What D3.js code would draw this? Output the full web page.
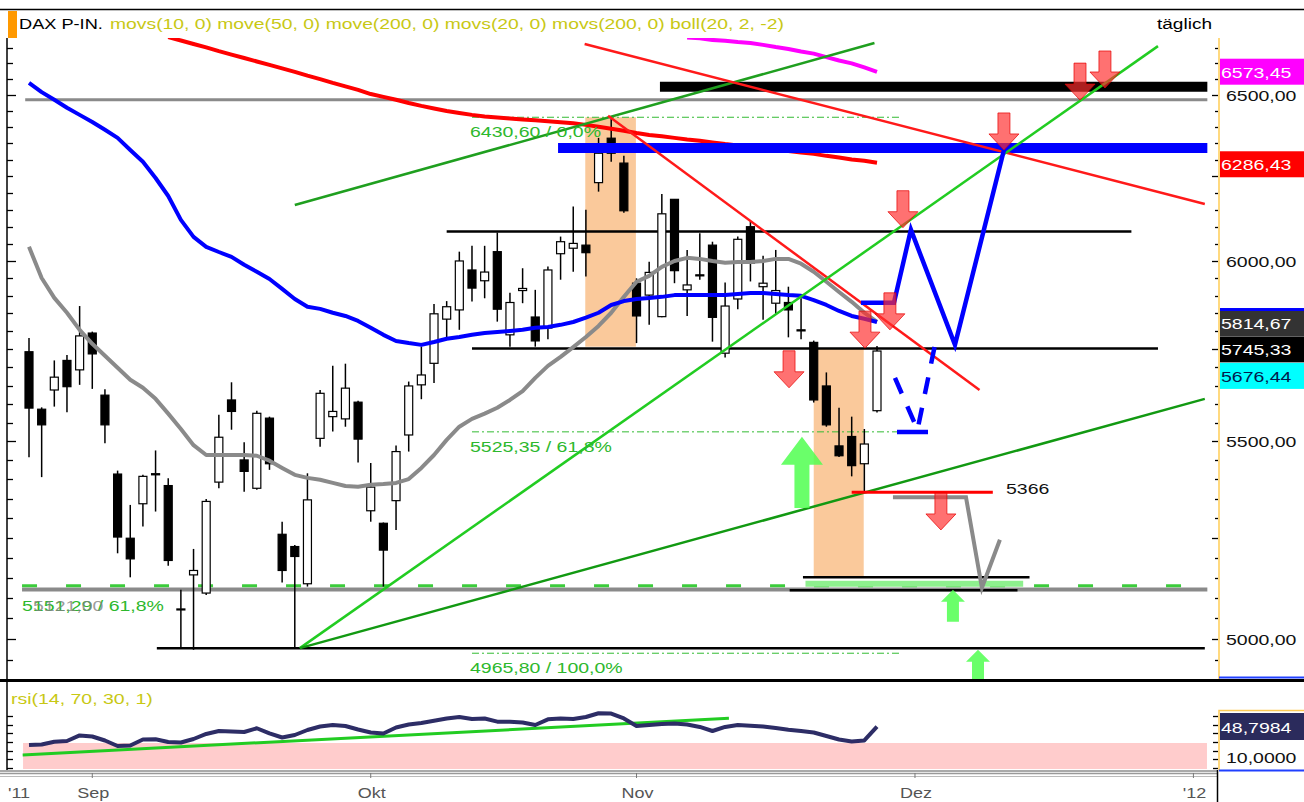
<!DOCTYPE html>
<html>
<head>
<meta charset="utf-8">
<script src="https://cdn.jsdelivr.net/npm/d3@7"></script>
<style>body{margin:0;background:#fff;overflow:hidden}</style>
</head>
<body>
<div id="chart"></div>
<script>
// daily candles, index 0 = first trading day shown
const opens  = [5743,5586,5638,5719,5693,5795,5624,5414,5249,5337,5412,5384,5071,5157,5112,5393,5611,5451,5377,5562,5259,5228,5135,5508,5566,5560,5605,5319,5287,5345,5517,5652,5711,5834,5860,5974,5943,6027,5790,5915,5840,5809,6021,6037,6046,6231,6366,6290,5936,5902,5841,6181,5917,5960,6046,5739,5891,6100,5926,5879,5881,5804,5769,5649,5488,5513,5441,5582];
const highs  = [5781,5591,5719,5734,5871,5799,5640,5423,5334,5412,5476,5403,5120,5222,5349,5571,5659,5498,5582,5566,5291,5232,5416,5638,5704,5710,5609,5443,5289,5489,5661,5757,5877,5885,6027,6044,6044,6083,5909,5979,5917,5984,6071,6160,6150,6367,6425,6312,5950,5998,6197,6182,6032,6081,6056,5938,6071,6115,6015,6032,5926,5893,5774,5686,5590,5566,5533,5759];
const lows   = [5458,5406,5593,5578,5652,5641,5495,5211,5151,5279,5317,5180,4978,4974,5107,5377,5531,5368,5373,5425,5138,4976,5128,5486,5526,5539,5444,5291,5128,5270,5473,5613,5657,5776,5804,5884,5893,5827,5757,5879,5757,5778,5946,5969,5955,6204,6294,6141,5767,5818,5839,5936,5843,5946,5771,5727,5862,5941,5832,5846,5783,5778,5604,5539,5459,5408,5368,5577];
const closes = [5589,5544,5673,5647,5787,5737,5544,5252,5197,5408,5415,5193,5073,5168,5343,5511,5580,5421,5575,5441,5168,5203,5347,5629,5580,5643,5506,5380,5219,5473,5649,5679,5849,5869,6000,5922,5968,5862,5881,5921,5773,5974,6056,6051,6024,6320,6320,6147,5843,5967,6138,5972,5931,5957,5839,5871,6063,5994,5936,5915,5860,5801,5611,5544,5462,5436,5493,5745];

// moving averages
const movs20 = [6041,5951,5894,5852,5804,5765,5732,5699,5666,5644,5614,5574,5533,5490,5464,5464,5464,5464,5462,5449,5430,5412,5404,5399,5391,5383,5381,5386,5388,5391,5401,5430,5464,5504,5539,5560,5574,5590,5611,5635,5671,5704,5729,5756,5784,5815,5852,5897,5940,5957,5983,6000,6009,6006,6000,5995,5997,5997,6000,6006,6006,5992,5969,5940,5911,5883,5852,5826];
const move50 = [6538,6509,6485,6460,6438,6416,6392,6367,6330,6294,6245,6191,6120,6070,6041,6026,6012,5989,5969,5948,5920,5891,5869,5863,5852,5843,5829,5810,5790,5773,5767,5762,5770,5779,5784,5790,5795,5798,5801,5804,5810,5812,5818,5826,5838,5852,5874,5885,5891,5894,5897,5902,5902,5902,5902,5902,5905,5908,5908,5905,5902,5900,5888,5874,5857,5843,5835,5826];
const move200 = [null,null,null,null,null,null,null,null,null,null,null,6684,6673,6662,6651,6639,6628,6617,6606,6595,6584,6573,6561,6550,6538,6527,6516,6503,6494,6485,6475,6466,6458,6450,6444,6438,6433,6430,6427,6424,6421,6418,6415,6412,6407,6401,6395,6389,6382,6376,6372,6367,6362,6358,6353,6348,6344,6339,6335,6330,6327,6322,6318,6312,6307,6301,6297,6291];
const movs200 = [null,null,null,null,null,null,null,null,null,null,null,null,null,null,null,null,null,null,null,null,null,null,null,null,null,null,null,null,null,null,null,null,null,null,null,null,null,null,null,null,null,null,null,null,null,null,null,null,null,null,null,null,6683,6680,6675,6672,6668,6665,6659,6652,6646,6638,6631,6620,6609,6600,6587,6573];

const rsi = [27.7,28.3,31.5,32.3,38.7,37.5,32.9,26.5,27.1,34.0,34.3,31.2,30.6,34.6,40.4,43.8,43.3,42.7,47.0,41.0,36.3,39.2,45.0,49.0,50.8,49.6,45.6,42.1,41.0,47.9,51.3,53.1,55.6,58.3,60.0,57.7,58.3,54.6,54.6,53.7,50.8,57.3,58.3,57.7,60.0,64.3,64.0,58.3,49.6,50.8,51.9,52.5,51.3,48.5,43.8,48.5,50.8,50.0,49.0,47.3,45.3,43.8,42.1,38.1,34.0,31.7,32.9,48.8];
const rsiTrend = [-0.5, 16.2, 55.3, 58.5];
const rsiBand = [0, 30];

// drawn lines: [index1, price1, index2, price2]
const grayLevel   = [-0.3, 6485, 93.1, 6485];
const blackBar    = [49.85, 6526, 93.1, 6526];
const blueBar     = [41.8, 6336, 93.1, 6336];
const greenUpper  = [21.0, 6164, 66.8, 6665];
const redUpper    = [43.9, 6662, 92.9, 6167];
const redDown     = [45.75, 6435, 75.1, 5638];
const greenSteep  = [21.4, 4978, 89.2, 6655];
const greenFlat   = [21.4, 4978, 92.9, 5614];
const rangeTop    = [33.0, 6086, 87.1, 6086];
const rangeBottom = [35.0, 5752, 89.2, 5752];
const lowLine     = [10.1, 4978, 92.9, 4978];
const grayBase    = [-0.55, 5121, 93.1, 5121];
const greenDashed = [-0.55, 5130, 93.1, 5130];
const supportTop  = [61.15, 5151, 79.05, 5151];
const supportBot  = [60.1, 5119, 78.1, 5119];
const line5366    = [65.0, 5367, 76.15, 5367];

const fibLevels = [6430.60, 5525.35, 4965.80];
const fibRange = [35.0, 68.9];
const fibLabels = ['6430,60 / 0,0%', '5525,35 / 61,8%', '4965,80 / 100,0%'];

// shaded boxes: [index1, index2, priceTop, priceBottom]
const boxes = [[43.95, 47.95, 6430.6, 5757], [62.0, 65.95, 5752, 5151]];

// projections
const blueProj = [[65.73,5880],[68.34,5880],[69.68,6091],[73.16,5762],[77.03,6330]];
const blueDash = [[68.42,5671],[70.2,5531],[71.58,5762]];
const blueBase = [68.58, 5525, 71.03, 5525];
const grayProj = [[68.26,5354],[74.03,5354],[75.29,5125],[76.71,5245]];

// arrows: [tip index, tip price]
const downArrows = [[83.04,6484],[85.01,6522],[77.03,6330],[69.05,6097],[68.02,5804],[66.05,5753],[60.05,5644],[72.05,5270]];
// [index, tip price, tail price, size]
const upArrows = [[61.07,5512,5326,'big'],[73.0,5120,5042,'small'],[74.98,4974,4880,'small']];

const rightTicks = [5000, 5500, 6000, 6500];
const badges = [
  {v: 6573.45, t: '6573,45'},
  {v: 6286.43, t: '6286,43'},
  {v: 5814.67, t: '5814,67'},
  {v: 5745.33, t: '5745,33'},
  {v: 5676.44, t: '5676,44'}
];
const monthLabels = ['Sep', 'Okt', 'Nov', 'Dez', "'12"];
const monthIdx = [5, 27, 48, 70, 92];

const W = 1304, H = 802;
const pL = 7, pR = 1218, pT = 38, pB = 679;
const rsiTop = 682, rsiBottom = 770;

const svg = d3.select('#chart').append('svg').attr('width', W).attr('height', H);

let x = d3.scaleLinear().domain([0, 67]).range([29, 877]);
let y = d3.scaleLog().domain([5000, 6500]).range([639, 95]);
let yr = d3.scaleLinear().domain([0, 100]).range([769, 682.3]);

const FONT = "'Liberation Sans', Arial, sans-serif";
function txt(g, tx, ty, s, color, size, anchor, sx) {
  return g.append('text')
    .attr('transform', 'translate(' + tx + ',' + ty + ') scale(' + (sx || 1.3) + ',1)')
    .attr('text-anchor', anchor || 'start')
    .style('font-family', FONT)
    .style('font-size', (size || 15) + 'px')
    .attr('fill', color || '#000')
    .text(s);
}

const defs = svg.append('defs');
defs.append('clipPath').attr('id', 'clipMain').append('rect')
  .attr('x', pL).attr('y', pT).attr('width', pR - pL).attr('height', pB - pT);
defs.append('clipPath').attr('id', 'clipRsi').append('rect')
  .attr('x', pL).attr('y', rsiTop).attr('width', pR - pL).attr('height', rsiBottom - rsiTop);

const main = svg.append('g').attr('clip-path', 'url(#clipMain)');

// shaded boxes
main.selectAll('.box').data(boxes).enter().append('rect')
  .attr('x', d => x(d[0])).attr('width', d => x(d[1]) - x(d[0]))
  .attr('y', d => y(d[2])).attr('height', d => y(d[3]) - y(d[2]))
  .attr('fill', '#fac99b');

function seg(g, s, color, w, dash) {
  let l = g.append('line')
    .attr('x1', x(s[0])).attr('y1', y(s[1]))
    .attr('x2', x(s[2])).attr('y2', y(s[3]))
    .attr('stroke', color).attr('stroke-width', w);
  if (dash) l.attr('stroke-dasharray', dash);
  return l;
}

// fib levels
fibLevels.forEach(v => seg(main, [fibRange[0], v, fibRange[1], v], '#33bb33', 1, '7,3,2,3'));

// horizontal levels
seg(main, grayLevel, '#8a8a8a', 3);
seg(main, grayBase, '#8a8a8a', 4);
seg(main, greenDashed, '#3ccc3c', 3, '15,29');
seg(main, lowLine, '#000', 2.5);
seg(main, rangeTop, '#000', 2.5);
seg(main, rangeBottom, '#000', 2.5);
seg(main, supportBot, '#000', 2.5);
seg(main, [supportTop[0] + 0.2, (supportTop[1] + supportBot[1]) / 2, supportTop[2] - 0.5, (supportTop[1] + supportBot[1]) / 2], '#8ef08e', 6);
seg(main, supportTop, '#000', 2.5);

// candles
const candles = d3.range(opens.length).map(i => ({i: i, o: opens[i], h: highs[i], l: lows[i], c: closes[i]}));
main.selectAll('.wick').data(candles).enter().append('line')
  .attr('x1', d => x(d.i)).attr('x2', d => x(d.i))
  .attr('y1', d => y(d.h)).attr('y2', d => y(d.l))
  .attr('stroke', '#000').attr('stroke-width', 1.5);
main.selectAll('.body').data(candles).enter().append('rect')
  .attr('x', d => x(d.i) - 4).attr('width', 8)
  .attr('y', d => y(Math.max(d.o, d.c)))
  .attr('height', d => Math.max(1, Math.abs(y(d.o) - y(d.c))))
  .attr('fill', d => d.c >= d.o ? '#fff' : '#000')
  .attr('stroke', '#000').attr('stroke-width', 1.2);

// moving averages
let maLine = d3.line().defined(d => d != null).x((d, i) => x(i)).y(d => y(d));
function ma(vals, color, w) {
  main.append('path').datum(vals).attr('d', maLine)
    .attr('fill', 'none').attr('stroke', color).attr('stroke-width', w)
    .attr('stroke-linejoin', 'round');
}
ma(movs20, '#8a8a8a', 4);
ma(move50, '#0000ff', 4);
ma(move200, '#ff0000', 4);
ma(movs200, '#ff00ff', 4);

// thick bars
seg(main, blackBar, '#000', 10);
seg(main, blueBar, '#0000ff', 10);

// trend lines
seg(main, greenUpper, '#1f9f1f', 2.5);
seg(main, redUpper, '#ff1a1a', 2.5);
seg(main, redDown, '#ff1a1a', 2.5);
seg(main, greenSteep, '#22cc22', 2.5);
seg(main, greenFlat, '#129912', 2.5);
seg(main, line5366, '#ff0000', 3);

// projections
let pLine = d3.line().x(d => x(d[0])).y(d => y(d[1]));
main.append('path').datum(grayProj).attr('d', pLine)
  .attr('fill', 'none').attr('stroke', '#8a8a8a').attr('stroke-width', 4);
main.append('path').datum(blueProj).attr('d', pLine)
  .attr('fill', 'none').attr('stroke', '#0000ff').attr('stroke-width', 4.5);
main.append('path').datum(blueDash).attr('d', pLine)
  .attr('fill', 'none').attr('stroke', '#0000ff').attr('stroke-width', 4.5)
  .attr('stroke-dasharray', '17,14');
seg(main, blueBase, '#0000ff', 4.5);

// arrows
function arrowPts(cx, tip, dir, sw, sl, hw, hl) {
  let b = tip - dir * hl, t = tip - dir * (hl + sl);
  return [[cx - sw, t], [cx + sw, t], [cx + sw, b], [cx + hw, b], [cx, tip], [cx - hw, b], [cx - sw, b]];
}
main.selectAll('.darr').data(downArrows).enter().append('polygon')
  .attr('points', d => arrowPts(x(d[0]), y(d[1]), 1, 6, 21, 15, 16).join(' '))
  .attr('fill', 'rgba(255,45,45,0.68)').attr('stroke', 'rgba(230,0,0,0.7)').attr('stroke-width', 1);
main.selectAll('.uarr').data(upArrows).enter().append('polygon')
  .attr('points', d => {
    let tip = y(d[1]), tail = y(d[2]);
    let big = d[3] === 'big';
    let hl = big ? 28 : 12, hw = big ? 21 : 12, sw = big ? 7.5 : 6;
    return arrowPts(x(d[0]), tip, -1, sw, tail - tip - hl, hw, hl).join(' ');
  })
  .attr('fill', 'rgba(80,255,80,0.85)');

// texts inside the chart
fibLevels.forEach((v, k) => txt(main, x(fibRange[0]) - 2, y(v) + 20, fibLabels[k], '#2db82d'));
txt(main, 22, 611, '5151,29 / 61,8%', '#2db82d');
txt(main, 33, 611, '5121,00', 'rgba(130,130,130,0.8)');
txt(main, 1006, 494, '5366', '#111');

// frame
svg.append('line').attr('x1', 0).attr('x2', W).attr('y1', 9.5).attr('y2', 9.5).attr('stroke', '#000').attr('stroke-width', 1.5);
svg.append('rect').attr('x', 8).attr('y', 11).attr('width', 9).attr('height', 27).attr('fill', '#ff9900');
svg.append('line').attr('x1', pL).attr('x2', pL).attr('y1', pT).attr('y2', rsiBottom).attr('stroke', '#000').attr('stroke-width', 1.5);
svg.append('line').attr('x1', pR + 1).attr('x2', pR + 1).attr('y1', pT).attr('y2', pB).attr('stroke', '#ffcc55').attr('stroke-width', 1.5);
svg.append('line').attr('x1', 0).attr('x2', W).attr('y1', 680.5).attr('y2', 680.5).attr('stroke', '#000').attr('stroke-width', 3);
svg.append('line').attr('x1', pR + 1).attr('x2', W).attr('y1', 677.5).attr('y2', 677.5).attr('stroke', '#2040ff').attr('stroke-width', 2);

// header
txt(svg, 19, 29, 'DAX P-IN.', '#000', 14);
txt(svg, 110, 29, 'movs(10, 0) move(50, 0) move(200, 0) movs(20, 0) movs(200, 0) boll(20, 2, -2)', '#c8c814', 14, 'start', 1.38);
txt(svg, 1157, 29, 'täglich', '#000', 14, 'start', 1.36);

// y ticks on both sides
let tickVals = d3.range(4950, 6700, 50).filter(v => y(v) > pT && y(v) < pB);
svg.selectAll('.ltick').data(tickVals).enter().append('line')
  .attr('x1', pL).attr('x2', d => pL + (d % 500 === 0 ? 9 : 6))
  .attr('y1', d => Math.round(y(d)) + 0.5).attr('y2', d => Math.round(y(d)) + 0.5)
  .attr('stroke', '#000').attr('stroke-width', 1.3);
svg.selectAll('.rtick').data(tickVals).enter().append('line')
  .attr('x1', d => pR - (d % 250 === 0 ? 6 : 3)).attr('x2', pR)
  .attr('y1', d => Math.round(y(d)) + 0.5).attr('y2', d => Math.round(y(d)) + 0.5)
  .attr('stroke', '#000').attr('stroke-width', 1.3);

rightTicks.forEach(v => txt(svg, 1226, y(v) + 6, d3.format('.2f')(v).replace('.', ','), '#111'));

// price badges
const badgeColors = [['#ff00ff', '#fff'], ['#ff0000', '#fff'], ['#333333', '#fff'], ['#000000', '#fff'], ['#00ffff', '#001a4d']];
badges.forEach((b, k) => {
  let cy = y(b.v);
  if (k === 2) cy -= 3;
  if (k === 3) cy -= 1.5;
  svg.append('rect').attr('x', pR + 2).attr('y', cy - 13).attr('width', W - pR).attr('height', 26)
    .attr('fill', badgeColors[k][0]);
  if (k === 2) svg.append('rect').attr('x', pR + 2).attr('y', cy - 15).attr('width', W - pR).attr('height', 3).attr('fill', '#0000ff');
  txt(svg, pR + 3, cy + 6, b.t, badgeColors[k][1]);
});

// RSI panel
const rsiG = svg.append('g').attr('clip-path', 'url(#clipRsi)');
rsiG.append('rect')
  .attr('x', x(-0.47)).attr('width', x(93.07) - x(-0.47))
  .attr('y', yr(rsiBand[1])).attr('height', yr(rsiBand[0]) - yr(rsiBand[1]))
  .attr('fill', '#ffcccc');
rsiG.append('line')
  .attr('x1', x(rsiTrend[0])).attr('y1', yr(rsiTrend[1]))
  .attr('x2', x(rsiTrend[2])).attr('y2', yr(rsiTrend[3]))
  .attr('stroke', '#22cc22').attr('stroke-width', 3);
rsiG.append('path').datum(rsi)
  .attr('d', d3.line().x((d, i) => x(i)).y(d => yr(d)))
  .attr('fill', 'none').attr('stroke', '#2d2d66').attr('stroke-width', 4).attr('stroke-linejoin', 'round');
txt(svg, 11, 704, 'rsi(14, 70, 30, 1)', '#c8c814', 15);

let rsiTicks = d3.range(0, 70, 10);
svg.selectAll('.rlt').data(rsiTicks).enter().append('line')
  .attr('x1', pL).attr('x2', pL + 6)
  .attr('y1', d => Math.round(yr(d)) - 0.5).attr('y2', d => Math.round(yr(d)) - 0.5)
  .attr('stroke', '#000').attr('stroke-width', 1.3);
svg.selectAll('.rrt').data(rsiTicks).enter().append('line')
  .attr('x1', pR - 5).attr('x2', pR)
  .attr('y1', d => Math.round(yr(d)) - 0.5).attr('y2', d => Math.round(yr(d)) - 0.5)
  .attr('stroke', '#000').attr('stroke-width', 1.3);

svg.append('polyline').attr('points', [[pR + 1, rsiBottom], [pR + 1, 710.5], [W, 710.5]].join(' '))
  .attr('fill', 'none').attr('stroke', '#ffcc55').attr('stroke-width', 1.5);
svg.append('rect').attr('x', pR + 2).attr('y', 713).attr('width', W - pR).attr('height', 27).attr('fill', '#2b2b5c');
txt(svg, pR + 3, 733, '48,7984', '#fff');
txt(svg, 1226, 763, '10,0000', '#111');
svg.append('line').attr('x1', pR + 1).attr('x2', W).attr('y1', 770.5).attr('y2', 770.5).attr('stroke', '#2040ff').attr('stroke-width', 2);

// x axis
svg.append('line').attr('x1', 0).attr('x2', pR).attr('y1', 771).attr('y2', 771).attr('stroke', '#555').attr('stroke-width', 1);
svg.append('line').attr('x1', 0).attr('x2', pR).attr('y1', 773.5).attr('y2', 773.5).attr('stroke', '#999').attr('stroke-width', 1.5);
svg.append('line').attr('x1', 0).attr('x2', pR).attr('y1', 776.5).attr('y2', 776.5).attr('stroke', '#bbb').attr('stroke-width', 1);
svg.append('line').attr('x1', pR - 0.5).attr('x2', pR - 0.5).attr('y1', 770).attr('y2', H).attr('stroke', '#000').attr('stroke-width', 1.5);
monthIdx.forEach((m, k) => {
  svg.append('line').attr('x1', x(m)).attr('x2', x(m)).attr('y1', 773).attr('y2', 778).attr('stroke', '#777');
  txt(svg, x(m) + 1, 798, monthLabels[k], '#555', 15, 'middle', 1.2);
});
txt(svg, 8, 798, "'11", '#555', 15, 'start', 1.2);
</script>
</body>
</html>
